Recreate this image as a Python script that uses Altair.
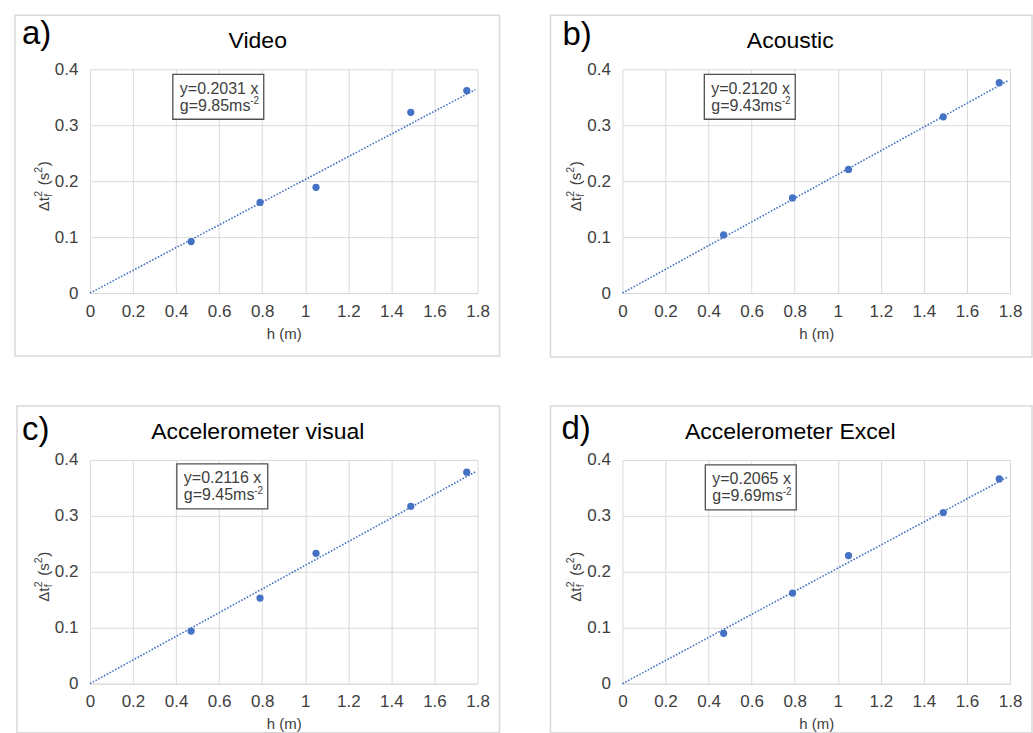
import altair as alt
import pandas as pd

# ---------------- data ----------------
h_m = [0.47, 0.79, 1.05, 1.49, 1.75]
panel_letters = ["a)", "b)", "c)", "d)"]
panel_titles = ["Video", "Acoustic", "Accelerometer visual", "Accelerometer Excel"]
video_dt2 = [0.092, 0.162, 0.189, 0.323, 0.362]
acoustic_dt2 = [0.104, 0.170, 0.221, 0.315, 0.376]
acc_visual_dt2 = [0.094, 0.153, 0.233, 0.317, 0.378]
acc_excel_dt2 = [0.090, 0.162, 0.229, 0.306, 0.366]
fit_slopes = [0.2031, 0.2120, 0.2116, 0.2065]
fit_g = ["9.85", "9.43", "9.45", "9.69"]
fit_h_range = [0, 1.79]
x_ticks = [0, 0.2, 0.4, 0.6, 0.8, 1.0, 1.2, 1.4, 1.6, 1.8]
y_ticks = [0, 0.1, 0.2, 0.3, 0.4]
series = [video_dt2, acoustic_dt2, acc_visual_dt2, acc_excel_dt2]

# ---------------- style / layout ----------------
FONT = "Liberation Sans"
BLUE = "#4472C4"
GRID = "#d9d9d9"
LABEL = "#404040"
W, H = 388, 224

border_left = [-75, -72, -73, -72]
border_right = [410, 410, 410, 410]
border_top = [-54, -54, -54, -54]
border_bottom = [287, 288, 273, 273]
letter_x = [-68, -60, -68, -61]
letter_y = [-25.5, -24.5, -20, -20.5]
box_x = [83, 82, 87, 83]
box_y = [5, 5, 4, 5]

one = pd.DataFrame({"k": [0]})


def txt(text, x, y, size, color="black", angle=0, align="left", baseline="alphabetic", weight="normal"):
    kw = dict(text=text, font=FONT, fontSize=size, color=color, align=align,
              baseline=baseline, fontWeight=weight)
    if angle:
        kw["angle"] = angle
    return alt.Chart(one).mark_text(**kw).encode(x=alt.value(x), y=alt.value(y))


def panel(i):
    df = pd.DataFrame({"h": h_m, "dt2": series[i]})
    fit = pd.DataFrame({"h": fit_h_range})

    xenc = alt.X("h:Q", scale=alt.Scale(domain=[0, 1.8], nice=False, zero=True),
                 axis=alt.Axis(values=x_ticks, format=".1~f", grid=True, gridColor=GRID,
                               domain=True, domainColor=GRID, ticks=False,
                               labelFont=FONT, labelFontSize=17, labelColor=LABEL,
                               labelPadding=10, labelFlush=False, labelOverlap=False,
                               title="h (m)", titleFont=FONT, titleFontSize=15,
                               titleFontWeight="normal", titleColor=LABEL, titlePadding=7))
    yenc = alt.Y("dt2:Q", scale=alt.Scale(domain=[0, 0.4], nice=False),
                 axis=alt.Axis(values=y_ticks, format=".1~f", grid=True, gridColor=GRID,
                               domain=False, ticks=False,
                               labelFont=FONT, labelFontSize=17, labelColor=LABEL,
                               labelPadding=12, labelOverlap=False, title=None))

    border = alt.Chart(one).mark_rect(filled=False, stroke=GRID, strokeWidth=1.5).encode(
        x=alt.value(border_left[i]), x2=alt.value(border_right[i]),
        y=alt.value(border_top[i]), y2=alt.value(border_bottom[i]))

    line = alt.Chart(fit).transform_calculate(
        dt2=f"{fit_slopes[i]} * datum.h"
    ).mark_line(color=BLUE, strokeWidth=1.6, strokeDash=[1.6, 1.6]).encode(x=xenc, y=yenc)

    pts = alt.Chart(df).mark_circle(size=52, color=BLUE, opacity=1).encode(x=xenc, y=yenc)

    bx, by = box_x[i], box_y[i]
    box = alt.Chart(one).mark_rect(fill="white", stroke="#505050", strokeWidth=1.3).encode(
        x=alt.value(bx), x2=alt.value(bx + 91), y=alt.value(by), y2=alt.value(by + 45))
    eq1 = txt(f"y={fit_slopes[i]:.4f} x", bx + 7, by + 19.5, 16, LABEL)
    eq2 = txt(f"g={fit_g[i]}ms", bx + 7, by + 36.5, 16, LABEL)
    eq2s = txt("-2", bx + 7 + 70.5, by + 30, 10, LABEL)

    title = txt(panel_titles[i], 168, -21, 23, "black", align="center")
    letter = txt(panel_letters[i], letter_x[i], letter_y[i], 33, "black")

    # rotated y-axis title: Δt_f^2 (s^2)
    yb = -41
    ytitle = [
        txt("\u0394t", yb, 142, 15, LABEL, angle=270),
        txt("f", yb + 3, 127.5, 10.5, LABEL, angle=270),
        txt("2", yb - 7, 127.5, 10.5, LABEL, angle=270),
        txt("(s", yb, 116, 15, LABEL, angle=270),
        txt("2", yb - 7, 103.5, 10.5, LABEL, angle=270),
        txt(")", yb, 97, 15, LABEL, angle=270),
    ]

    return alt.layer(border, line, pts, box, eq1, eq2, eq2s, title, letter, *ytitle).properties(
        width=W, height=H)


chart = alt.concat(*[panel(i) for i in range(4)], columns=2,
                   spacing=alt.RowColnumber(row=167, column=145), bounds="flush").properties(
    padding={"left": 14, "top": 14, "right": 0, "bottom": 0},
    background="white",
).configure_view(stroke=None)

chart.save("out.html", embed_options={"renderer": "svg", "actions": False})
